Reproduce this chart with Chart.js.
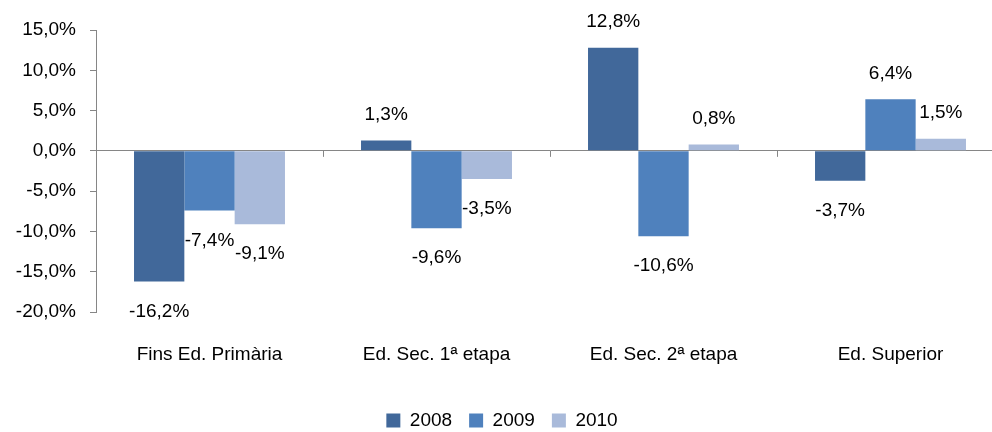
<!DOCTYPE html>
<html>
<head>
<meta charset="utf-8">
<script src="https://cdn.jsdelivr.net/npm/chart.js@4.4.1/dist/chart.umd.min.js"></script>
<style>
html,body{margin:0;padding:0;overflow:hidden;background:#fff;}
#wrap{width:1010px;height:432px;}
</style>
</head>
<body>
<div id="wrap"><canvas id="c" width="1010" height="432"></canvas></div>
<script>
const categories = ["Fins Ed. Primària", "Ed. Sec. 1ª etapa", "Ed. Sec. 2ª etapa", "Ed. Superior"];
const seriesNames = ["2008", "2009", "2010"];
const values2008 = [-16.2, 1.3, 12.8, -3.7];
const values2009 = [-7.4, -9.6, -10.6, 6.4];
const values2010 = [-9.1, -3.5, 0.8, 1.5];
const yTicks = [15, 10, 5, 0, -5, -10, -15, -20];
const colors = ["#41689A", "#4F81BD", "#A9BADA"];

const FONT = "'Liberation Sans', Arial, sans-serif";
const FS = 19;
const fmt = v => v.toFixed(1).replace('.', ',') + '%';

const labelPlugin = {
  id: 'valueLabels',
  afterDatasetsDraw(chart) {
    const ctx = chart.ctx;
    ctx.save();
    const xs = chart.scales.x, ys = chart.scales.y;
    const y0 = ys.getPixelForValue(0);
    ctx.strokeStyle = '#868686';
    ctx.lineWidth = 1;
    for (let i = 1; i < categories.length; i++) {
      const xp = Math.round((xs.getPixelForValue(i - 1) + xs.getPixelForValue(i)) / 2) + 0.5;
      ctx.beginPath();
      ctx.moveTo(xp, y0);
      ctx.lineTo(xp, y0 + 6);
      ctx.stroke();
    }
    ctx.font = FS + 'px ' + FONT;
    ctx.fillStyle = '#000';
    ctx.textAlign = 'center';
    ctx.textBaseline = 'middle';
    chart.data.datasets.forEach((ds, di) => {
      const meta = chart.getDatasetMeta(di);
      meta.data.forEach((bar, i) => {
        const v = ds.data[i];
        const y = v >= 0 ? bar.y - 26 : bar.y + 30;
        ctx.fillText(fmt(v), bar.x, y);
      });
    });
    ctx.restore();
  }
};

new Chart(document.getElementById('c'), {
  type: 'bar',
  data: {
    labels: categories,
    datasets: [
      { label: seriesNames[0], data: values2008, backgroundColor: colors[0] },
      { label: seriesNames[1], data: values2009, backgroundColor: colors[1] },
      { label: seriesNames[2], data: values2010, backgroundColor: colors[2] }
    ]
  },
  options: {
    responsive: false,
    animation: false,
    devicePixelRatio: 1,
    layout: { padding: { top: 30, right: 6, left: 0, bottom: -8 } },
    datasets: { bar: { barPercentage: 1, categoryPercentage: 0.665 } },
    plugins: {
      legend: {
        position: 'bottom',
        labels: {
          boxWidth: 14, boxHeight: 14, padding: 17,
          color: '#000', font: { family: FONT, size: FS }
        }
      },
      tooltip: { enabled: false }
    },
    scales: {
      y: {
        min: -20, max: 15,
        afterBuildTicks: s => { s.ticks = yTicks.map(v => ({ value: v })); },
        afterFit: s => { s.width = 96; },
        ticks: { color: '#000', font: { family: FONT, size: FS }, padding: 14, callback: v => fmt(v) },
        grid: {
          drawOnChartArea: true, drawTicks: true, tickLength: 6,
          color: c => (c.tick && c.tick.value === 0) ? '#868686' : 'rgba(0,0,0,0)',
          tickColor: '#868686', lineWidth: 1
        },
        border: { display: true, color: '#868686', width: 1 }
      },
      x: {
        afterFit: s => { s.height = 82; },
        ticks: { color: '#000', font: { family: FONT, size: FS }, padding: 31 },
        grid: { display: false, drawTicks: false },
        border: { display: false }
      }
    }
  },
  plugins: [labelPlugin]
});
</script>
</body>
</html>
